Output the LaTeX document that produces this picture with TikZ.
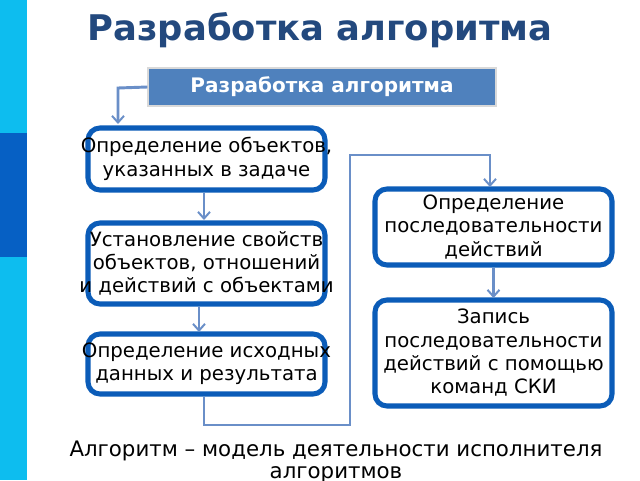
\documentclass[tikz,border=0pt]{standalone}
\usepackage{fontspec}
\setmainfont{DejaVu Sans}
\usetikzlibrary{arrows.meta}
\definecolor{cyanbar}{HTML}{0DBDEF}
\definecolor{darkbar}{HTML}{0660C4}
\definecolor{titleblue}{HTML}{23497E}
\definecolor{headfill}{HTML}{4F81BD}
\definecolor{boxline}{HTML}{0B5CB8}
\definecolor{conn}{HTML}{6A8FC8}
\begin{document}
\begin{tikzpicture}[x=0.75pt,y=-0.75pt,
  box/.style={draw=boxline,line width=3.8pt,rounded corners=9pt,fill=white,inner sep=0pt,minimum width=237*0.75pt},
  btext/.style={align=center,font=\fontsize{14.8}{17.5}\selectfont,inner sep=0pt},
  conn/.style={draw=conn,line width=2.2pt},
  arr/.style={conn,-{Straight Barb[length=5pt,width=9pt,line width=1.5pt]}}]
\useasboundingbox (0,0) rectangle (640,480);
\fill[cyanbar] (0,0) rectangle (27,480);
\fill[darkbar] (0,133) rectangle (27,257);
\node (title) at (320,30) {\fontsize{26.5}{30}\selectfont\bfseries\color{titleblue}Разработка алгоритма};
\node[draw=white!85!black,line width=1pt,fill=headfill,minimum width=348*0.75pt,minimum height=38*0.75pt,inner sep=0pt,text=white,font=\fontsize{15}{18}\selectfont\bfseries] (head) at (322,87) {Разработка алгоритма};
\node[box,minimum height=62*0.75pt] (b1) at (206.5,159) {};
\node[box,minimum height=81*0.75pt] (b2) at (206.5,263.5) {};
\node[box,minimum height=60*0.75pt] (b3) at (206.5,364) {};
\node[box,minimum height=76*0.75pt] (b4) at (493.5,227) {};
\node[box,minimum height=106*0.75pt] (b5) at (493.5,353) {};
\node[btext] (t1) at (b1) {Определение объектов,\\указанных в задаче};
\node[btext] (t2) at (b2) {Установление свойств\\объектов, отношений\\и действий с объектами};
\node[btext] (t3) at (b3) {Определение исходных\\данных и результата};
\node[btext] (t4) at (b4) {Определение\\последовательности\\действий};
\node[btext] (t5) at (b5) {Запись\\последовательности\\действий с помощью\\команд СКИ};
\coordinate (c0) at (118,88);
\coordinate (c1) at (204,425);
\coordinate (c2) at (350,425);
\coordinate (c3) at (350,155);
\coordinate (c4) at (490,155);
\draw[arr] (head.west) -- (c0) -- (118,124);
\draw[arr] (b1.south -| 204,0) -- (204,220);
\draw[arr] (b2.south -| 199,0) -- (199,332);
\draw[arr] (b3.south -| 204,0) -- (c1) -- (c2) -- (c3) -- (c4) -- (490,187);
\draw[arr] (b4.south) -- (493.5,298);
\node[align=center,font=\fontsize{16}{17}\selectfont] (foot) at (336,462) {Алгоритм – модель деятельности исполнителя\\алгоритмов};
\end{tikzpicture}
\end{document}
